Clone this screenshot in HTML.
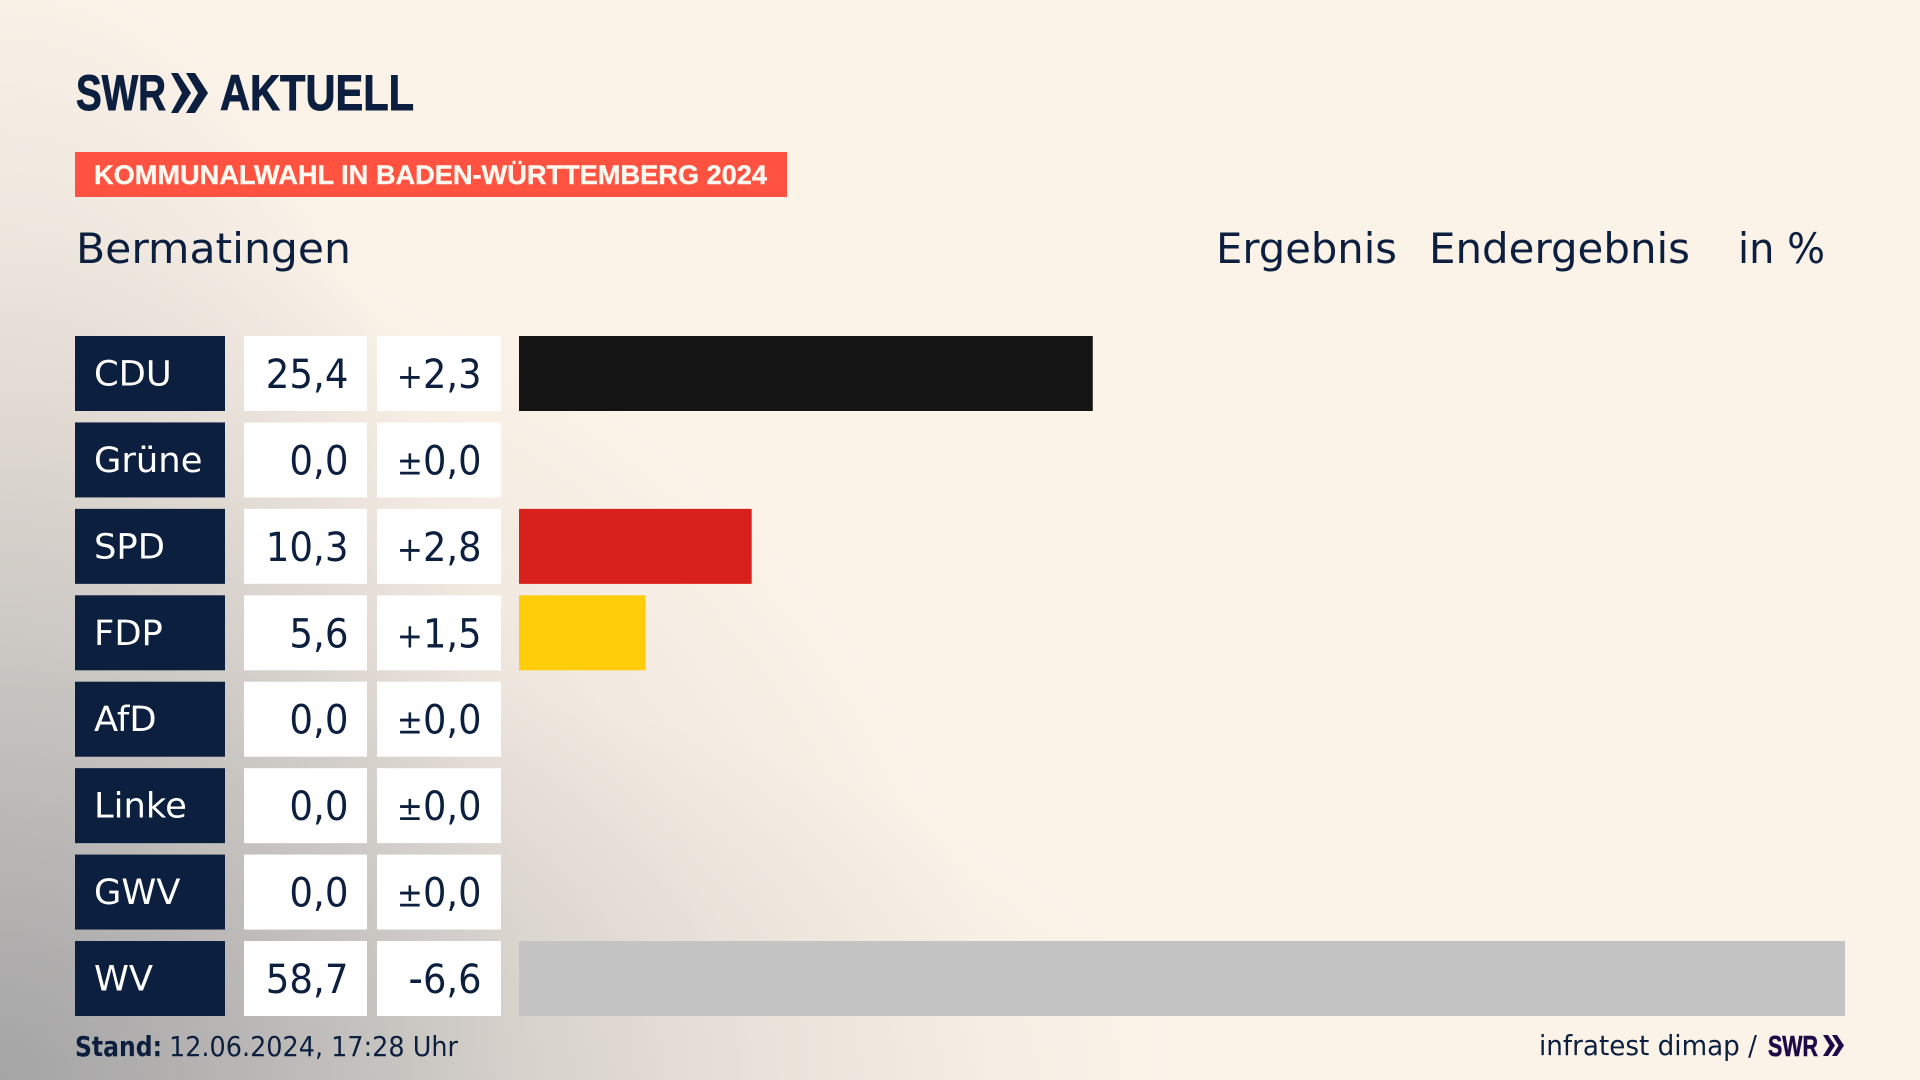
<!DOCTYPE html>
<html lang="de">
<head>
<meta charset="utf-8">
<title>Kommunalwahl in Baden-Württemberg 2024 – Bermatingen</title>
<style>
html,body{margin:0;padding:0;width:1920px;height:1080px;overflow:hidden;background:#fbf2e8;}
#stage{position:absolute;left:0;top:0;width:1920px;height:1080px;
background:
radial-gradient(ellipse 1190px 430px at 0px 1080px,rgba(150,150,152,.28) 0%,rgba(165,165,165,.15) 55%,rgba(180,178,175,0) 100%),
radial-gradient(ellipse 520px 1120px at 0px 1080px,rgba(140,142,146,.40) 0%,rgba(155,156,158,.24) 55%,rgba(175,172,168,0) 100%),
radial-gradient(ellipse 1000px 860px at 0px 1080px,rgba(150,152,156,.58) 0%,rgba(170,170,170,.36) 45%,rgba(190,186,180,.15) 75%,rgba(200,194,186,0) 100%),
#fbf2e8;}
svg{position:absolute;left:0;top:0;display:block;}
text{font-family:"DejaVu Sans","Liberation Sans",sans-serif;fill:#0c1f3f;}
.brand{font-family:"Liberation Sans",sans-serif;font-weight:700;}
.heavy{stroke:#0c1f3f;stroke-width:.9px;}
</style>
</head>
<body>
<div id="stage">
<svg id="chart" width="1920" height="1080" viewBox="0 0 1920 1080" xmlns="http://www.w3.org/2000/svg">
  <g>
    <text class="brand heavy" x="76" y="110" font-size="50" textLength="90" lengthAdjust="spacingAndGlyphs">SWR</text>
    <polygon points="171,73 178,73 191,93 178,113 171,113 182,93" fill="#0c1f3f"/>
    <polygon points="186,73 195,73 208,93 195,113 186,113 198,93" fill="#0c1f3f"/>
    <text class="brand heavy" x="220" y="110" font-size="50" textLength="194" lengthAdjust="spacingAndGlyphs">AKTUELL</text>
  </g>
  <rect x="75" y="152" width="712" height="45" fill="#ff5240"/>
  <text class="brand" x="94" y="184" font-size="27" textLength="673" lengthAdjust="spacingAndGlyphs" style="fill:#fff8ef;stroke:#fff8ef;stroke-width:.4px">KOMMUNALWAHL IN BADEN-WÜRTTEMBERG 2024</text>
  <text x="76" y="263" font-size="42" textLength="275" lengthAdjust="spacingAndGlyphs">Bermatingen</text>
  <text x="1216" y="263" font-size="42" textLength="181" lengthAdjust="spacingAndGlyphs">Ergebnis</text>
  <text x="1429" y="263" font-size="42" textLength="261" lengthAdjust="spacingAndGlyphs">Endergebnis</text>
  <text x="1738" y="263" font-size="42" textLength="87" lengthAdjust="spacingAndGlyphs">in %</text>
  <g id="rows"></g>
  <text x="75" y="1056" font-size="28" font-weight="700" textLength="87" lengthAdjust="spacingAndGlyphs">Stand:</text>
  <text x="169" y="1056" font-size="28" textLength="289" lengthAdjust="spacingAndGlyphs">12.06.2024, 17:28 Uhr</text>
  <text x="1539" y="1055" font-size="28" textLength="218" lengthAdjust="spacingAndGlyphs">infratest dimap /</text>
  <g>
    <text class="brand" x="1768" y="1056" font-size="29" textLength="50" lengthAdjust="spacingAndGlyphs" style="fill:#1e0a46;stroke:#1e0a46;stroke-width:.6px">SWR</text>
    <polygon points="1823,1035 1828,1035 1835,1045.5 1828,1056 1823,1056 1829.5,1045.5" fill="#1e0a46"/>
    <polygon points="1832,1035 1837,1035 1844,1045.5 1837,1056 1832,1056 1838.5,1045.5" fill="#1e0a46"/>
  </g>
</svg>
</div>
<script>
const parties = ["CDU", "Grüne", "SPD", "FDP", "AfD", "Linke", "GWV", "WV"];
const shares = [25.4, 0.0, 10.3, 5.6, 0.0, 0.0, 0.0, 58.7];
const changes = [2.3, 0.0, 2.8, 1.5, 0.0, 0.0, 0.0, -6.6];
const partyColors = {CDU: "#141414", "Grüne": "#46962b", SPD: "#d8201c", FDP: "#ffcd0a", AfD: "#009ee0", Linke: "#be3075", GWV: "#c4c4c4", WV: "#c4c4c4"};

const SVG_NS = "http://www.w3.org/2000/svg";
const rowsLayer = document.getElementById("rows");

function xScale(value) { return 519 + value * (1326 / 58.7); }
function rowTop(index) { return 336 + index * 86.43; }
const rowHeight = 75;

function formatShare(v) { return v.toFixed(1).replace(".", ","); }
function changeSign(v) { return v === 0 ? "±" : (v > 0 ? "+" : "-"); }
function changeBody(v) { return Math.abs(v).toFixed(1).replace(".", ","); }
function makeRect(x, y, w, h, fill) {
  const r = document.createElementNS(SVG_NS, "rect");
  r.setAttribute("x", x);
  r.setAttribute("y", y);
  r.setAttribute("width", w);
  r.setAttribute("height", h);
  r.setAttribute("fill", fill);
  return r;
}
function makeText(str, x, y, size, sx, anchor, fill) {
  const t = document.createElementNS(SVG_NS, "text");
  t.textContent = str;
  t.setAttribute("transform", "translate(" + x + " " + y + ") scale(" + sx + " 1)");
  t.setAttribute("font-size", size);
  t.setAttribute("text-anchor", anchor);
  t.style.fill = fill;
  return t;
}
function makeChangeText(v, x, y) {
  const t = makeText("", x, y, 40, 0.92, "end", "#0c1f3f");
  const sign = document.createElementNS(SVG_NS, "tspan");
  sign.textContent = changeSign(v);
  if (v !== 0 && v < 0) {
    sign.setAttribute("font-size", 44);
  } else {
    sign.setAttribute("font-size", 34);
  }
  t.appendChild(sign);
  const body = document.createElementNS(SVG_NS, "tspan");
  body.textContent = changeBody(v);
  t.appendChild(body);
  return t;
}

parties.forEach(function (party, i) {
  const key = party.toLowerCase();
  const y = rowTop(i);
  const labelBaseline = y + 49.5;
  const valueBaseline = y + 52;

  const labelBox = makeRect(75, y, 150, rowHeight, "#0c1f3f");
  
  
  rowsLayer.appendChild(labelBox);

  const labelText = makeText(party, 94, labelBaseline, 35, 1.01, "start", "#ffffff");
  
  
  rowsLayer.appendChild(labelText);

  const shareBox = makeRect(244, y, 123, rowHeight, "#ffffff");
  
  
  rowsLayer.appendChild(shareBox);

  const shareText = makeText(formatShare(shares[i]), 348.5, valueBaseline, 40, 0.93, "end", "#0c1f3f");
  
  
  rowsLayer.appendChild(shareText);

  const changeBox = makeRect(377, y, 124, rowHeight, "#ffffff");
  
  
  rowsLayer.appendChild(changeBox);

  const changeText = makeChangeText(changes[i], 481.5, valueBaseline);
  
  
  rowsLayer.appendChild(changeText);

  const bar = makeRect(xScale(0), y, xScale(shares[i]) - xScale(0), rowHeight, partyColors[party]);
  
  
  rowsLayer.appendChild(bar);
});
</script>
</body>
</html>
